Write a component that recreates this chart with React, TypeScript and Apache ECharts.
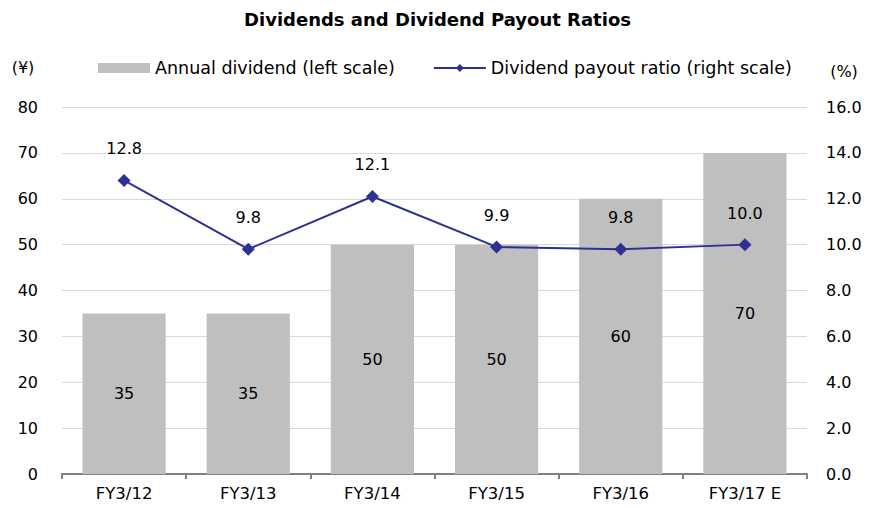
import React, { useEffect, useRef } from "react";
import * as echarts from "echarts";

const categories = ["FY3/12", "FY3/13", "FY3/14", "FY3/15", "FY3/16", "FY3/17 E"];
const annualDividend = [35, 35, 50, 50, 60, 70];
const payoutRatio = [12.8, 9.8, 12.1, 9.9, 9.8, 10.0];

const FONT = "'DejaVu Sans', sans-serif";

export default function App() {
  const ref = useRef<HTMLDivElement>(null);
  useEffect(() => {
    if (!ref.current) return;
    const chart = echarts.init(ref.current, undefined, { renderer: "svg" });
    chart.setOption({
      animation: false,
      backgroundColor: "#ffffff",
      textStyle: { fontFamily: FONT, color: "#000" },
      title: {
        text: "Dividends and Dividend Payout Ratios",
        left: "center",
        top: 5,
        textStyle: { fontFamily: FONT, fontSize: 18, fontWeight: "bold", color: "#000" },
      },
      legend: {
        left: 93,
        top: 54,
        itemWidth: 52,
        itemHeight: 10,
        itemGap: 38,
        textStyle: { fontFamily: FONT, fontSize: 17.5, color: "#000" },
        data: [
          { name: "Annual dividend (left scale)", icon: "rect" },
          { name: "Dividend payout ratio (right scale)" },
        ],
      },
      grid: { left: 62, right: 68, top: 107, bottom: 34 },
      xAxis: {
        type: "category",
        data: categories,
        axisLine: { lineStyle: { color: "#808080", width: 2 } },
        axisTick: { show: true, length: 5, alignWithLabel: false, lineStyle: { color: "#808080", width: 2 } },
        axisLabel: { fontFamily: FONT, fontSize: 16.5, color: "#000", margin: 11 },
      },
      yAxis: [
        {
          type: "value",
          min: 0,
          max: 80,
          interval: 10,
          name: "(¥)",
          nameLocation: "end",
          nameGap: 32,
          nameTextStyle: { fontFamily: FONT, fontSize: 16, color: "#000", align: "center", padding: [0, 0, 0, -78] },
          axisLine: { show: false },
          axisTick: { show: false },
          axisLabel: { fontFamily: FONT, fontSize: 16, color: "#000", margin: 24 },
          splitLine: { lineStyle: { color: "#d9d9d9", width: 1 } },
        },
        {
          type: "value",
          min: 0,
          max: 16,
          interval: 2,
          name: "(%)",
          nameLocation: "end",
          nameGap: 28,
          nameTextStyle: { fontFamily: FONT, fontSize: 16, color: "#000", align: "center", padding: [0, 0, 0, 74] },
          axisLine: { show: false },
          axisTick: { show: false },
          axisLabel: {
            fontFamily: FONT,
            fontSize: 16,
            color: "#000",
            margin: 19,
            formatter: (v: number) => v.toFixed(1),
          },
          splitLine: { show: false },
        },
      ],
      series: [
        {
          name: "Annual dividend (left scale)",
          type: "bar",
          yAxisIndex: 0,
          data: annualDividend,
          barWidth: "67%",
          itemStyle: { color: "#bfbfbf" },
          label: {
            show: true,
            position: "inside",
            fontFamily: FONT,
            fontSize: 16,
            color: "#000",
          },
        },
        {
          name: "Dividend payout ratio (right scale)",
          type: "line",
          yAxisIndex: 1,
          data: payoutRatio,
          symbol: "diamond",
          symbolSize: 13,
          lineStyle: { color: "#2e3192", width: 2 },
          itemStyle: { color: "#2e3192" },
          label: {
            show: true,
            position: "top",
            distance: 17,
            fontFamily: FONT,
            fontSize: 16,
            color: "#000",
            formatter: (p: any) => Number(p.value).toFixed(1),
          },
        },
      ],
    });
    return () => chart.dispose();
  }, []);
  return <div ref={ref} style={{ width: 875, height: 508, margin: -8 }} />;
}
